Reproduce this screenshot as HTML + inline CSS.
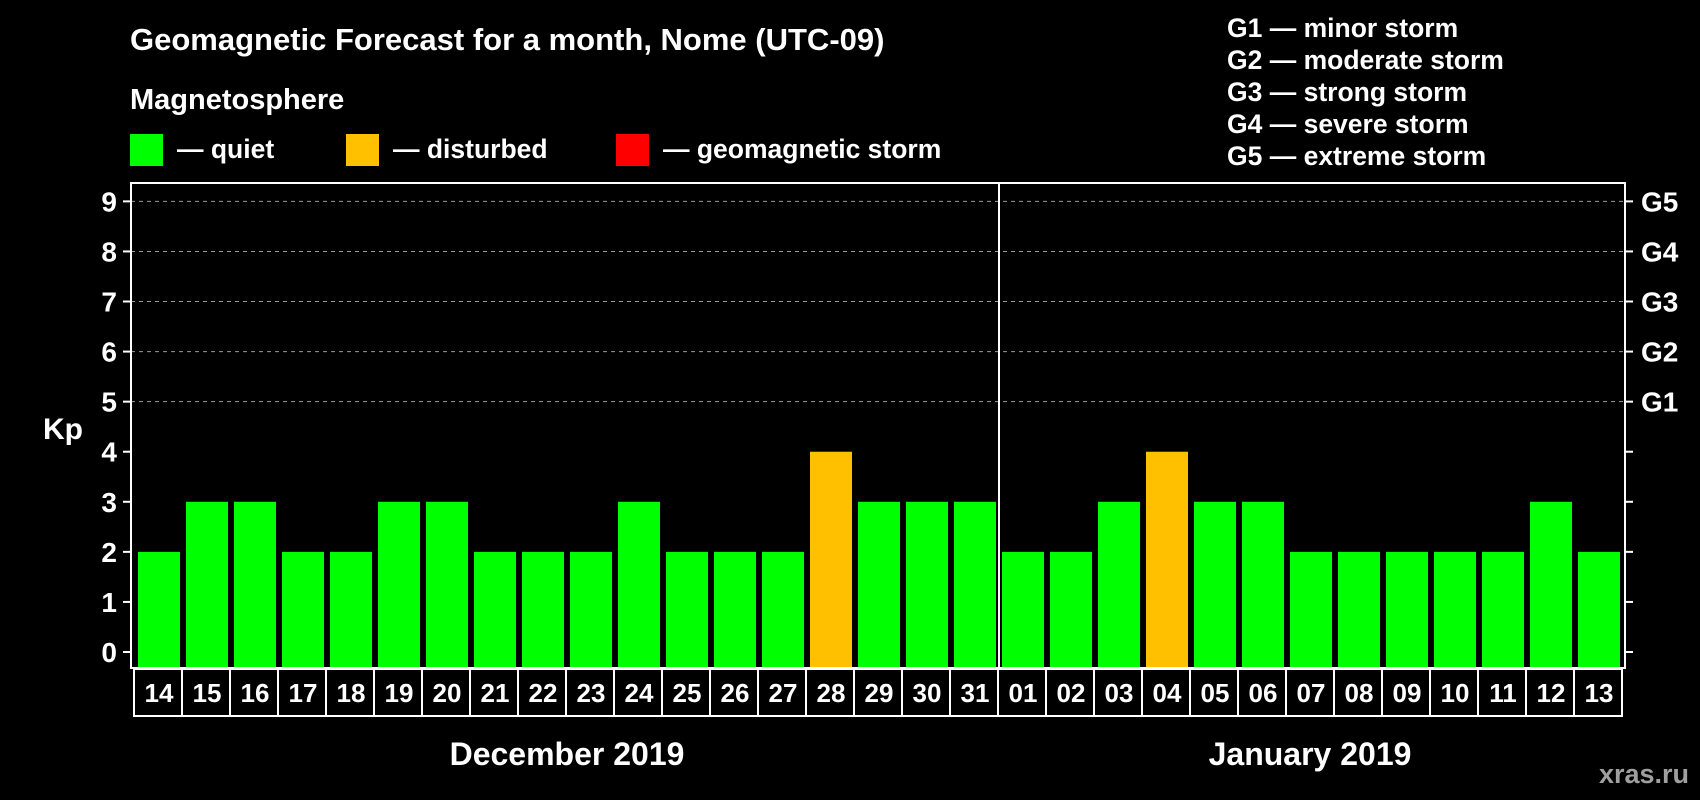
<!DOCTYPE html>
<html><head><meta charset="utf-8"><style>
body{margin:0;background:#000;width:1700px;height:800px;overflow:hidden}
svg{display:block}
text{font-family:"Liberation Sans",Arial,sans-serif;font-weight:bold;fill:#fff}
</style></head><body>
<svg id="chart" width="1700" height="800" xmlns="http://www.w3.org/2000/svg">
<text x="130" y="50" font-size="31">Geomagnetic Forecast for a month, Nome (UTC-09)</text>
<text x="130" y="109" font-size="29">Magnetosphere</text>
<rect x="130" y="134" width="33" height="32" fill="#00ff00"/>
<text x="177" y="158" font-size="26.5">— quiet</text>
<rect x="346" y="134" width="33" height="32" fill="#ffc000"/>
<text x="393" y="158" font-size="26.5">— disturbed</text>
<rect x="616" y="134" width="33" height="32" fill="#ff0000"/>
<text x="663" y="158" font-size="26.5">— geomagnetic storm</text>
<g font-size="26.5">
<text x="1227" y="37">G1 — minor storm</text>
<text x="1227" y="69">G2 — moderate storm</text>
<text x="1227" y="101">G3 — strong storm</text>
<text x="1227" y="133">G4 — severe storm</text>
<text x="1227" y="165">G5 — extreme storm</text>
</g>
<text x="43" y="439" font-size="30">Kp</text>
<g id="plot"></g>
<text x="567" y="765" font-size="32" text-anchor="middle">December 2019</text>
<text x="1310" y="765" font-size="32" text-anchor="middle">January 2019</text>
<text x="1689" y="783" font-size="27" text-anchor="end" style="fill:#a0a0a0">xras.ru</text>
</svg>
<script>
const days=["14","15","16","17","18","19","20","21","22","23","24","25","26","27","28","29","30","31","01","02","03","04","05","06","07","08","09","10","11","12","13"];
const kp=[2,3,3,2,2,3,3,2,2,2,3,2,2,2,4,3,3,3,2,2,3,4,3,3,2,2,2,2,2,3,2];
const yTicks=[0,1,2,3,4,5,6,7,8,9];
const gLabels=["G1","G2","G3","G4","G5"];
const NS="http://www.w3.org/2000/svg";
const g=document.getElementById('plot');
const L=131,R=1625,T=183,B=668;
const y=v=>652-v*50.07;
const x=i=>138+i*48;
function el(t,a){const e=document.createElementNS(NS,t);for(const k in a)e.setAttribute(k,a[k]);g.appendChild(e);return e;}
for(let i=5;i<=9;i++){
 const l=el('line',{x1:L,x2:R,y1:y(i),y2:y(i),stroke:'#999','stroke-dasharray':'4,4','stroke-width':1});
 
 
}
kp.forEach((v,i)=>{
 const r=el('rect',{x:x(i),y:y(v),width:42,height:B-y(v),fill:v>=5?'#ff0000':(v>=4?'#ffc000':'#00ff00')});
 
 
 const c=el('rect',{x:x(i)-4,y:669,width:48,height:47,fill:'none',stroke:'#fff','stroke-width':2});
 
 
 const t=el('text',{x:x(i)+21,y:702,'font-size':26,'text-anchor':'middle'});
 t.textContent=days[i];
 
 
});
const fr=el('rect',{x:L,y:T,width:R-L,height:B-T,fill:'none',stroke:'#fff','stroke-width':2});


const sep=el('line',{x1:999,x2:999,y1:T,y2:B,stroke:'#fff','stroke-width':2});


yTicks.forEach(v=>{
 const a=el('line',{x1:L-8,x2:L,y1:y(v),y2:y(v),stroke:'#fff','stroke-width':2});
 
 
 const b=el('line',{x1:R,x2:R+8,y1:y(v),y2:y(v),stroke:'#fff','stroke-width':2});
 
 
 const t=el('text',{x:117,y:y(v)+10,'font-size':28,'text-anchor':'end'});
 t.textContent=v;
 
 
});
gLabels.forEach((s,i)=>{
 const t=el('text',{x:1641,y:y(i+5)+10,'font-size':28});
 t.textContent=s;
 
 
});
</script>
</body></html>
